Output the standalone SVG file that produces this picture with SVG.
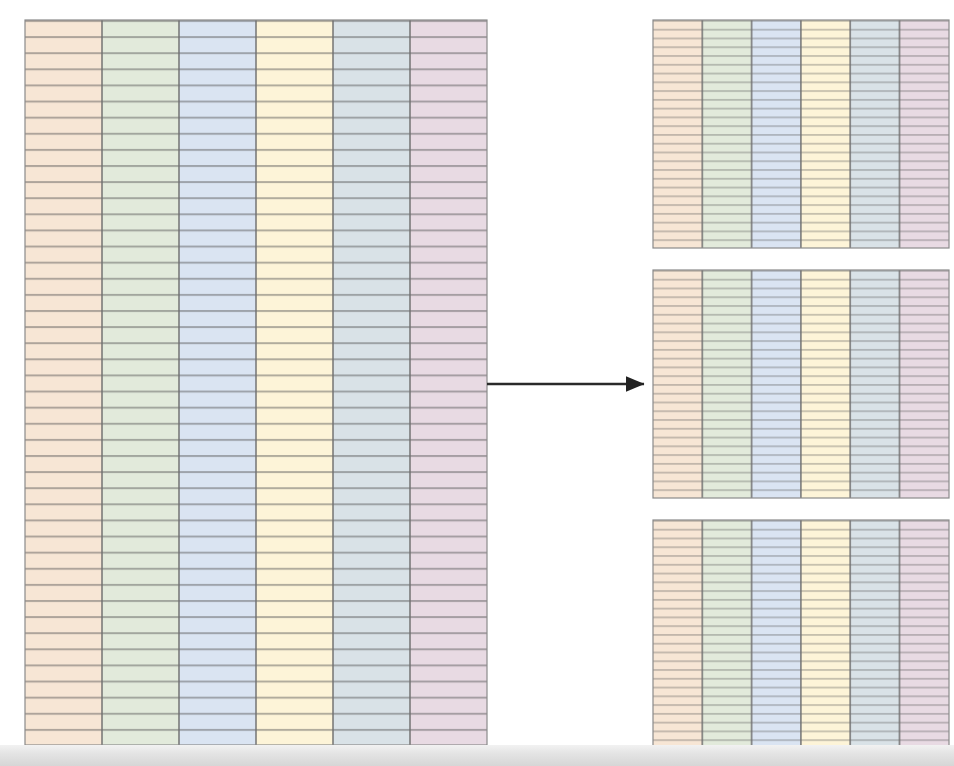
<svg xmlns="http://www.w3.org/2000/svg" width="954" height="766" viewBox="0 0 954 766">
<style>
.c1{fill:#f7e6d5}.c2{fill:#e2eadb}.c3{fill:#dae4f2}.c4{fill:#fdf4d8}.c5{fill:#d9e2e7}.c6{fill:#e8dae3}
.col{stroke:#6f6f6f;stroke-width:1.8;stroke-opacity:0.8}
.frame{fill:none;stroke:#8a8a8a;stroke-width:1.2}
.rowsBig{fill:url(#rowBig)}.rowsSmall{fill:url(#rowSmall)}
.conn{stroke:#2a2a2a;stroke-width:2.6;fill:none}
</style>
<defs>
<pattern id="rowBig" patternUnits="objectBoundingBox" width="1" height="0.022222">
<rect x="0" y="-0.4" width="600" height="2.4" fill="#555" fill-opacity="0.45"/>
</pattern>
<pattern id="rowSmall" patternUnits="objectBoundingBox" width="1" height="0.038462">
<rect x="0" y="0" width="400" height="1.8" fill="#555" fill-opacity="0.33"/>
</pattern>
<marker id="ah" markerWidth="8" markerHeight="8" refX="7" refY="4" orient="auto" markerUnits="strokeWidth">
<path d="M0,1 L7.2,4 L0,7 Z" fill="#222"/>
</marker>
<linearGradient id="bar" x1="0" y1="0" x2="0" y2="1">
<stop offset="0" stop-color="#f2f2f2"/>
<stop offset="0.4" stop-color="#e4e4e4"/>
<stop offset="1" stop-color="#d6d6d6"/>
</linearGradient>
<g id="smallTbl">
<rect class="c1" x="0" y="0" width="49.3" height="228"/>
<rect class="c2" x="49.3" y="0" width="49.3" height="228"/>
<rect class="c3" x="98.6" y="0" width="49.3" height="228"/>
<rect class="c4" x="147.9" y="0" width="49.3" height="228"/>
<rect class="c5" x="197.2" y="0" width="49.3" height="228"/>
<rect class="c6" x="246.5" y="0" width="49.5" height="228"/>
<rect class="rowsSmall" x="0" y="0" width="296" height="228"/>
<path class="col" d="M49.3,0V228M98.6,0V228M147.9,0V228M197.2,0V228M246.5,0V228"/>
<rect class="frame" x="0" y="0" width="296" height="228"/>
</g>
</defs>
<rect width="954" height="766" fill="#ffffff"/>
<g id="source-table">
<rect class="c1" x="25" y="20" width="77" height="725"/>
<rect class="c2" x="102" y="20" width="77" height="725"/>
<rect class="c3" x="179" y="20" width="77" height="725"/>
<rect class="c4" x="256" y="20" width="77" height="725"/>
<rect class="c5" x="333" y="20" width="77" height="725"/>
<rect class="c6" x="410" y="20" width="77" height="725"/>
<rect class="rowsBig" x="25" y="20" width="462" height="725"/>
<path class="col" d="M102,20V745M179,20V745M256,20V745M333,20V745M410,20V745"/>
<rect class="frame" x="25" y="20" width="462" height="725"/>
</g>
<g id="partition-1"><use href="#smallTbl" x="653" y="20"/></g>
<g id="partition-2"><use href="#smallTbl" x="653" y="270"/></g>
<g id="partition-3"><use href="#smallTbl" x="653" y="520"/></g>
<g id="connectors">
<line class="conn" x1="487" y1="384" x2="644" y2="384" marker-end="url(#ah)"/>
</g>
<rect x="0" y="745" width="954" height="21" fill="url(#bar)"/>
</svg>
